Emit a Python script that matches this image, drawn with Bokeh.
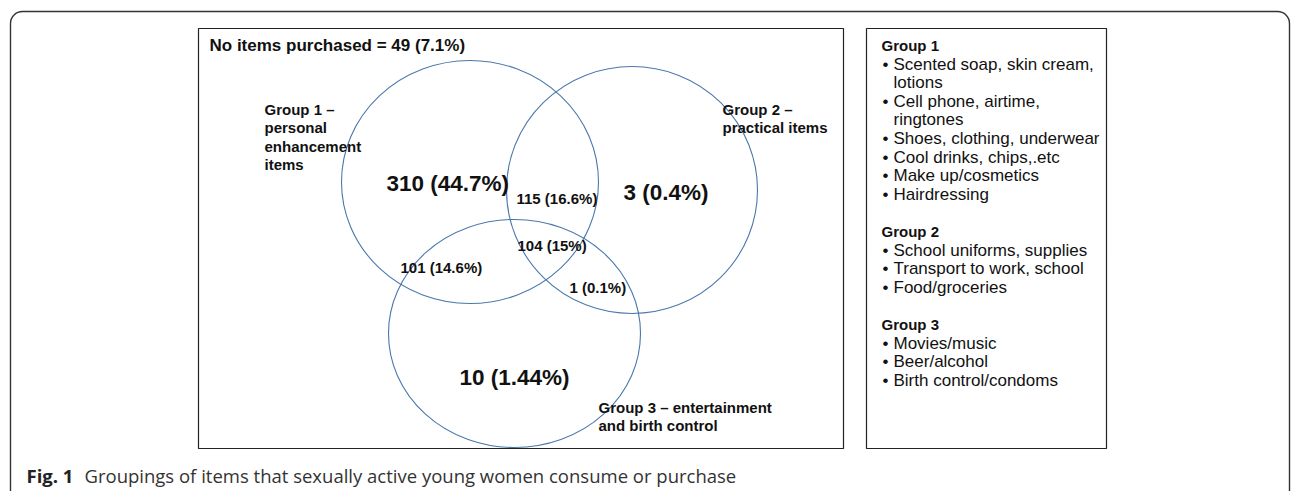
from bokeh.plotting import figure
from bokeh.models import Range1d, BoxAnnotation
from bokeh.core.properties import value
from bokeh.embed import file_html
from bokeh.resources import INLINE

# ---------------- data ----------------
no_items_count = 49
no_items_pct = "7.1"

set_titles = [
    ["Group 1 –", "personal", "enhancement", "items"],
    ["Group 2 –", "practical items"],
    ["Group 3 – entertainment", "and birth control"],
]

# regions: G1 only, G2 only, G3 only, G1&G2, G1&G3, G1&G2&G3, G2&G3
region_counts = [310, 3, 10, 115, 101, 104, 1]
region_pcts = ["44.7", "0.4", "1.44", "16.6", "14.6", "15", "0.1"]

group_headers = ["Group 1", "Group 2", "Group 3"]
group_items = [
    [["Scented soap, skin cream,", "lotions"], ["Cell phone, airtime,", "ringtones"],
     ["Shoes, clothing, underwear"], ["Cool drinks, chips,.etc"],
     ["Make up/cosmetics"], ["Hairdressing"]],
    [["School uniforms, supplies"], ["Transport to work, school"], ["Food/groceries"]],
    [["Movies/music"], ["Beer/alcohol"], ["Birth control/condoms"]],
]

caption_bold = "Fig. 1"
caption_text = "Groupings of items that sexually active young women consume or purchase"

# ---------------- layout (page pixel coordinates) ----------------
circle_cx = [469.5, 631.5, 514]
circle_cy = [181.5, 189.5, 333]
circle_rx = [128.5, 125.5, 126]
circle_ry = [121.5, 123.5, 114]

title_x = [264, 722, 598]
title_y0 = [109, 109, 407]
title_dy = 18.3

region_x = [386, 623, 459, 516, 400, 517, 569]
region_y = [183, 192, 377, 198, 267, 245, 287]
region_big = [True, True, True, False, False, False, False]

W, H = 1292, 491
p = figure(width=W, height=H, x_range=Range1d(0, W), y_range=Range1d(H, 0),
           output_backend="svg", toolbar_location=None, min_border=0,
           x_axis_type=None, y_axis_type=None, outline_line_color=None)
p.grid.visible = False
p.background_fill_color = "white"
p.border_fill_color = "white"

ARIAL = value("Liberation Sans")

# outer rounded frame
p.add_layout(BoxAnnotation(left=10, right=1289, top=11, bottom=560, border_radius=12,
                           fill_alpha=0, line_color="#333333", line_alpha=1.0, line_width=1.4))

# inner boxes
p.quad(left=[198, 866], right=[843, 1106], top=[28, 28], bottom=[448, 448],
       fill_color=None, line_color="#222222", line_width=1.2)

# circles
p.ellipse(x=circle_cx, y=circle_cy, width=[2 * r for r in circle_rx],
          height=[2 * r for r in circle_ry], fill_color=None,
          line_color="#4a78ad", line_width=1.1)

# no items line
p.text(x=[209], y=[45], text=[f"No items purchased = {no_items_count} ({no_items_pct}%)"],
       text_font=ARIAL, text_font_style="bold", text_font_size="17px",
       text_baseline="middle", text_align="left", text_color="#111111")

# set titles
tx, ty, tt = [], [], []
for i, lines in enumerate(set_titles):
    for j, line in enumerate(lines):
        tx.append(title_x[i]); ty.append(title_y0[i] + j * title_dy); tt.append(line)
p.text(x=tx, y=ty, text=tt, text_font=ARIAL, text_font_style="bold", text_font_size="15px",
       text_baseline="middle", text_align="left", text_color="#111111")

# region labels
labels = [f"{c} ({pc}%)" for c, pc in zip(region_counts, region_pcts)]
bx = [region_x[i] for i in range(7) if region_big[i]]
by = [region_y[i] for i in range(7) if region_big[i]]
bt = [labels[i] for i in range(7) if region_big[i]]
sx = [region_x[i] for i in range(7) if not region_big[i]]
sy = [region_y[i] for i in range(7) if not region_big[i]]
st = [labels[i] for i in range(7) if not region_big[i]]
p.text(x=bx, y=by, text=bt, text_font=ARIAL, text_font_style="bold", text_font_size="22.5px",
       text_baseline="middle", text_align="left", text_color="#111111")
p.text(x=sx, y=sy, text=st, text_font=ARIAL, text_font_style="bold", text_font_size="15px",
       text_baseline="middle", text_align="left", text_color="#111111")

# right-hand list
hx, hy, ht = [], [], []
ix, iy, it = [], [], []
dx, dy = [], []
y = 45
line_h = 18.6
for g, head in enumerate(group_headers):
    hx.append(881); hy.append(y); ht.append(head)
    y += line_h
    for item in group_items[g]:
        dx.append(882); dy.append(y)
        for line in item:
            ix.append(893); iy.append(y); it.append(line)
            y += line_h
    y += line_h
p.text(x=hx, y=hy, text=ht, text_font=ARIAL, text_font_style="bold", text_font_size="15px",
       text_baseline="middle", text_align="left", text_color="#111111")
p.text(x=ix, y=iy, text=it, text_font=ARIAL, text_font_size="17px",
       text_baseline="middle", text_align="left", text_color="#111111")
p.text(x=dx, y=dy, text=["•"] * len(dx), text_font=ARIAL, text_font_size="17px",
       text_baseline="middle", text_align="left", text_color="#111111")

# caption
p.text(x=[26], y=[475], text=[caption_bold], text_font=value("Open Sans"), text_font_style="bold",
       text_font_size="18.5px", text_baseline="middle", text_align="left", text_color="#222222")
p.text(x=[84], y=[475], text=[caption_text], text_font=value("Open Sans"),
       text_font_size="18.5px", text_baseline="middle", text_align="left", text_color="#333333")

open("out.html", "w").write(file_html(p, INLINE))
